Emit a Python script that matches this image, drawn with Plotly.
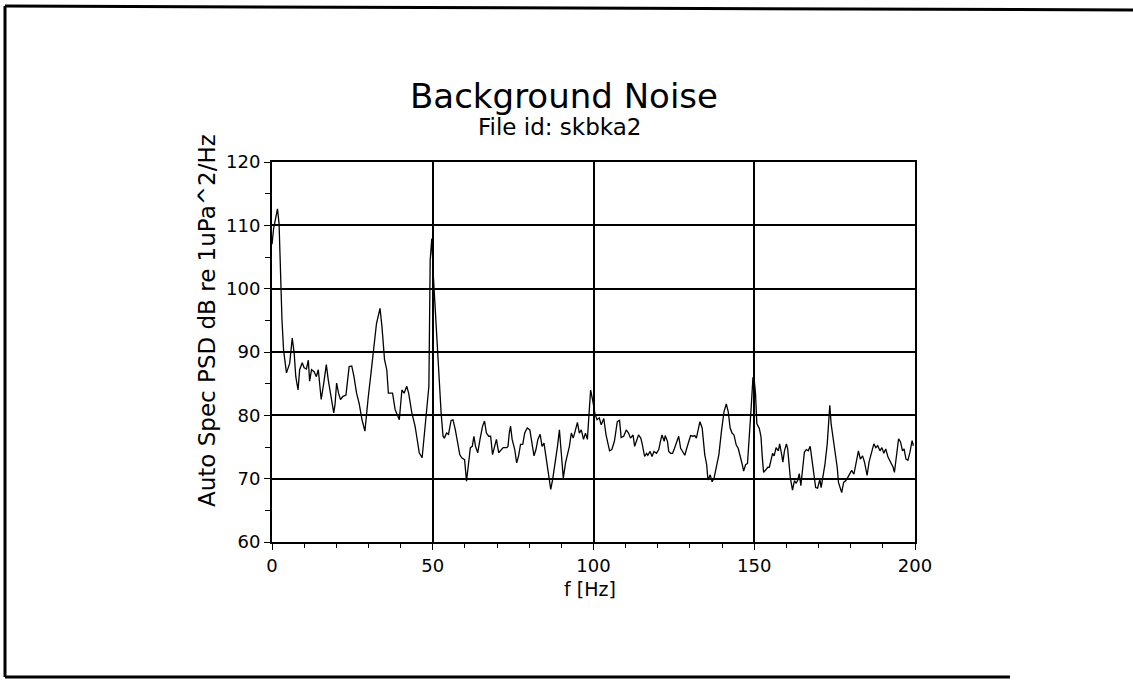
import plotly.graph_objects as go

# spectrum
freq_hz = [0.0, 0.5, 1.0, 1.7, 2.2, 2.6, 3.1, 3.6, 4.5, 5.5, 6.3, 6.9, 7.4, 8.1, 8.6, 9.4,
           10.0, 10.7, 11.3, 11.7, 12.3, 13.1, 13.8, 14.4, 15.3, 16.1, 16.9, 17.5, 18.2, 19.2, 19.6,
           20.1, 20.7, 21.3, 22.1, 23.0, 24.0, 24.8, 25.5, 26.3, 27.1, 28.0, 28.9, 29.4, 29.9,
           30.8, 31.7, 32.5, 33.6, 34.2, 35.0, 35.7, 36.2, 37.5, 38.3, 39.6,
           40.4, 41.1, 41.9, 42.5, 43.5, 44.5, 45.0, 45.8, 46.7, 47.4, 48.1, 48.8, 49.2, 49.7,
           50.2, 50.9, 51.8, 52.6, 53.2, 53.6, 54.3, 54.9, 55.7, 56.3, 57.0, 57.6, 58.4, 59.0, 59.9,
           60.5, 61.2, 61.7, 62.3, 62.8, 63.3, 64.0, 64.7, 65.5, 66.1, 66.7, 67.4, 68.0, 68.6, 69.2, 69.8,
           70.5, 71.1, 71.9, 73.0, 73.4, 73.8, 74.2, 74.7, 75.5, 76.1, 76.7, 77.3, 78.0, 78.6, 79.4,
           80.2, 81.0, 81.5, 82.1, 82.7, 83.4, 84.0, 84.6, 85.4, 86.1, 86.7, 87.3, 88.1, 88.8, 89.4, 89.8,
           90.6, 91.3, 91.9, 92.5, 93.1, 93.7, 94.4, 95.0, 95.6, 96.2, 96.9, 97.5, 98.1, 98.6, 99.1, 99.7,
           100.5, 101.1, 101.8, 102.4, 103.2, 103.9, 105.0, 105.7, 106.5, 107.4, 108.1, 108.6, 109.4,
           110.2, 110.9, 111.5, 112.3, 112.8, 113.3, 114.0, 114.7, 115.1, 115.9, 116.5, 116.9, 117.6,
           118.2, 118.8, 119.6, 120.3, 120.7, 121.3, 122.0, 122.3, 123.0, 123.4, 124.0, 124.6, 125.2,
           125.9, 126.5, 127.1, 127.7, 128.4, 129.0, 129.6, 130.2, 130.9, 131.5, 132.0, 132.5, 133.1,
           133.8, 134.6, 135.2, 135.6, 136.3, 136.9, 137.5, 138.2, 139.0, 139.8, 140.6, 141.3, 141.9,
           142.5, 143.1, 143.7, 144.4, 145.0, 145.6, 146.2, 146.7, 147.3, 147.9, 148.5, 149.1, 149.6,
           150.0, 150.4, 150.8, 151.6, 152.1, 152.5, 152.9, 153.6, 154.2, 154.7, 155.2, 155.7, 156.2,
           156.8, 157.5, 157.9, 158.5, 158.9, 159.4, 160.0, 160.4, 161.2, 161.9, 162.5, 163.0, 163.5,
           164.0, 164.5, 165.1, 165.6, 166.2, 166.8, 167.4, 167.9, 168.5, 169.1, 169.7, 170.4, 170.8,
           171.4, 172.0, 172.7, 173.1, 173.5, 173.9, 174.5, 175.1, 175.8, 176.2, 176.8, 177.2, 177.8,
           178.5, 179.1, 179.7, 180.3, 181.0, 181.7, 182.4, 183.0, 183.7, 184.3, 185.1, 185.7, 186.6,
           187.2, 187.8, 188.4, 189.1, 189.7, 190.3, 190.9, 191.6, 192.4, 193.2, 193.6, 194.3, 194.9,
           195.5, 196.1, 196.6, 197.2, 197.8, 198.4, 199.1, 199.5]

psd_db = [107.0, 109.5, 110.8, 112.6, 110.3, 101.4, 95.1, 90.3, 86.7, 88.2, 92.2, 89.8, 86.1, 84.0, 87.2, 88.3,
          87.5, 87.3, 88.7, 85.4, 87.2, 86.9, 86.1, 87.2, 82.5, 85.1, 88.0, 85.6, 83.5, 80.4, 81.7,
          85.1, 83.5, 82.5, 83.0, 83.2, 87.7, 87.8, 86.1, 83.5, 81.9, 79.3, 77.5, 80.4, 82.7,
          86.7, 90.9, 94.5, 96.9, 94.0, 88.8, 87.2, 83.5, 83.5, 80.9, 79.3,
          84.0, 83.5, 84.6, 83.5, 80.4, 78.3, 76.7, 74.1, 73.3, 77.2, 80.4, 84.6, 104.5, 107.9,
          101.9, 95.1, 86.7, 80.4, 76.7, 76.4, 77.2, 77.0, 79.2, 79.3, 77.8, 76.2, 73.8, 73.3, 73.0,
          69.6, 72.5, 74.9, 75.1, 76.7, 75.1, 74.1, 76.2, 78.3, 79.1, 77.2, 76.7, 76.7, 73.8, 75.1, 76.2,
          74.1, 74.4, 74.9, 74.9, 75.1, 77.2, 78.3, 76.2, 74.6, 72.5, 73.6, 75.4, 75.4, 77.2, 78.0,
          77.7, 75.1, 73.6, 74.6, 76.2, 77.0, 75.1, 75.6, 72.5, 70.4, 68.3, 69.9, 72.5, 75.1, 77.7, 74.6,
          70.1, 72.5, 73.6, 75.1, 77.2, 76.4, 77.7, 78.9, 77.2, 77.7, 76.2, 77.2, 76.2, 80.4, 84.0, 82.5,
          80.1, 79.3, 79.6, 78.5, 79.5, 76.9, 74.4, 74.6, 75.9, 79.0, 79.2, 76.5, 76.7,
          77.7, 77.2, 76.4, 76.9, 75.1, 75.9, 76.9, 76.4, 75.6, 73.5, 74.0, 73.7, 74.3,
          73.5, 74.3, 74.0, 74.6, 75.6, 76.9, 75.9, 76.8, 75.9, 74.3, 74.0, 74.0, 74.8,
          75.9, 76.7, 74.8, 74.3, 73.7, 74.8, 75.9, 76.8, 76.7, 76.8, 76.4, 77.7, 79.0,
          78.0, 73.8, 72.2, 69.8, 70.6, 69.5, 70.1, 71.6, 73.8, 77.5, 80.6, 81.8, 80.6,
          78.0, 77.2, 76.9, 75.3, 74.8, 73.8, 72.4, 71.2, 72.2, 72.4, 76.4, 81.7, 86.0,
          85.6, 83.4, 78.7, 77.9, 76.6, 73.4, 71.0, 71.4, 71.8, 71.8, 72.9, 74.0, 73.6,
          74.9, 74.4, 75.5, 73.9, 72.6, 74.4, 75.5, 74.7, 70.2, 68.2, 69.7, 69.3, 69.7,
          70.8, 68.9, 71.8, 74.2, 74.6, 74.4, 75.1, 73.4, 70.7, 68.6, 68.5, 69.9, 68.6,
          70.2, 72.3, 75.5, 78.1, 81.6, 78.7, 76.6, 75.0, 71.8, 69.4, 68.6, 67.8, 69.4,
          69.7, 70.2, 70.8, 71.3, 70.7, 72.6, 74.4, 73.1, 73.6, 72.6, 70.5, 72.6, 74.4,
          75.5, 74.9, 75.2, 74.4, 74.9, 74.0, 74.7, 73.4, 72.6, 71.8, 71.0, 74.4, 76.3,
          75.8, 74.4, 74.7, 73.1, 72.9, 74.1, 76.0, 75.2]

x_ticks = [0, 50, 100, 150, 200]
y_ticks = [60, 70, 80, 90, 100, 110, 120]

W, H = 1133, 682
L, R, T, B = 272, 915, 162, 542  # plot box in pixels


def px(x):
    return (x - L) / (R - L)


def py(y):
    return (B - y) / (B - T)


font = "DejaVu Sans"

fig = go.Figure()
fig.add_trace(go.Scatter(x=freq_hz, y=psd_db, mode="lines",
                         line=dict(color="black", width=1.3), showlegend=False))


def label(text, x, y, size, angle=0):
    return dict(text=text, x=px(x), y=py(y), xref="paper", yref="paper",
                xanchor="center", yanchor="middle", showarrow=False, textangle=angle,
                font=dict(family=font, size=size))


fig.update_layout(
    width=W, height=H,
    margin=dict(l=L, r=W - R, t=T, b=H - B),
    paper_bgcolor="white", plot_bgcolor="white",
    font=dict(family=font, color="black", size=18),
    xaxis=dict(range=[0, 200], tickvals=x_ticks, showgrid=True, gridcolor="black", gridwidth=1.5,
               showline=True, linecolor="black", linewidth=2, mirror=True,
               ticks="outside", ticklen=6, tickwidth=1, tickcolor="black", zeroline=False,
               tickfont=dict(family=font, size=18), ticklabelstandoff=0,
               minor=dict(dtick=10, ticks="outside", ticklen=4, tickcolor="black", showgrid=False)),
    yaxis=dict(range=[60, 120], tickvals=y_ticks, showgrid=True, gridcolor="black", gridwidth=1.5,
               showline=True, linecolor="black", linewidth=2, mirror=True,
               ticks="outside", ticklen=6, tickwidth=1, tickcolor="black", zeroline=False,
               tickfont=dict(family=font, size=18),
               minor=dict(dtick=5, ticks="outside", ticklen=5, tickcolor="black", showgrid=False)),
    annotations=[
        label("Background Noise", 564, 96, 34),
        label("File id: skbka2", 559, 127, 23),
        label("Auto Spec PSD dB re 1uPa^2/Hz", 207, 321, 23, -90),
        label("f [Hz]", 590, 589, 19),
    ],
    shapes=[
        # page border from the scanned sheet
        dict(type="line", xref="paper", yref="paper", x0=px(5), x1=px(1133), y0=py(6), y1=py(10),
             line=dict(color="black", width=3)),
        dict(type="line", xref="paper", yref="paper", x0=px(5), x1=px(5), y0=py(6), y1=py(677),
             line=dict(color="black", width=3)),
        dict(type="line", xref="paper", yref="paper", x0=px(5), x1=px(1010), y0=py(677), y1=py(677),
             line=dict(color="black", width=3)),
    ],
)

# drop the browser's default body margin so the figure sits at the window corner
fig.write_html("out.html", config={"displayModeBar": False},
               post_script="document.body.style.margin = '0';")
